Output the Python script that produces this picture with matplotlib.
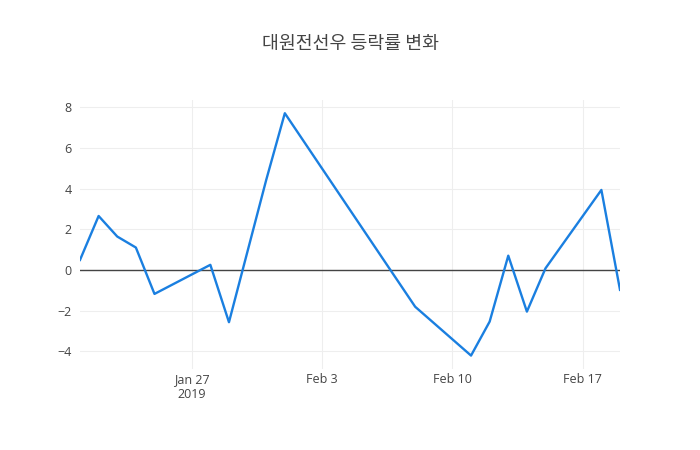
import numpy as np
import pandas as pd
import matplotlib.pyplot as plt

plt.rcParams['font.family'] = ['Open Sans', 'Noto Sans CJK KR', 'DejaVu Sans']

# daily change rate (%)
dates = pd.to_datetime([
    '2019-01-21', '2019-01-22', '2019-01-23', '2019-01-24', '2019-01-25',
    '2019-01-28', '2019-01-29', '2019-01-31', '2019-02-01', '2019-02-08',
    '2019-02-11', '2019-02-12', '2019-02-13', '2019-02-14', '2019-02-15',
    '2019-02-18', '2019-02-19'])
rates = [0.49, 2.65, 1.64, 1.10, -1.18,
         0.25, -2.57, 4.42, 7.70, -1.81,
         -4.21, -2.54, 0.70, -2.05, 0.08,
         3.93, -0.98]

tick_dates = pd.to_datetime(['2019-01-27', '2019-02-03', '2019-02-10', '2019-02-17'])
tick_labels = ['Jan 27\n2019', 'Feb 3', 'Feb 10', 'Feb 17']

fig = plt.figure(figsize=(7, 4.5), dpi=100)
ax = fig.add_axes([80 / 700, 81 / 450, 540 / 700, 269 / 450])

ax.axhline(0, color='#444444', lw=1, zorder=2)
ax.plot(dates, rates, color='#1a7fe0', lw=1.7, zorder=3)

ax.set_xlim(dates[0], dates[-1])
ax.set_ylim(-4.87, 8.35)
ax.set_xticks(tick_dates)
ax.set_xticklabels(tick_labels)
ax.set_yticks(np.arange(-4, 9, 2))
ax.set_yticklabels([str(v).replace('-', '\u2212') for v in range(-4, 9, 2)])

ax.grid(color='#eeeeee', lw=0.8)
ax.set_axisbelow(True)
for s in ax.spines.values():
    s.set_visible(False)
ax.tick_params(length=0, labelsize=9, colors='#444444')
ax.tick_params(axis='x', pad=3)
ax.tick_params(axis='y', pad=6)

fig.suptitle('대원전선우 등락률 변화', x=0.5, y=1 - 44 / 450, va='center',
             fontsize=13.2, color='#444444', family=['Noto Sans CJK KR', 'DejaVu Sans'])

fig.savefig('out.png')
